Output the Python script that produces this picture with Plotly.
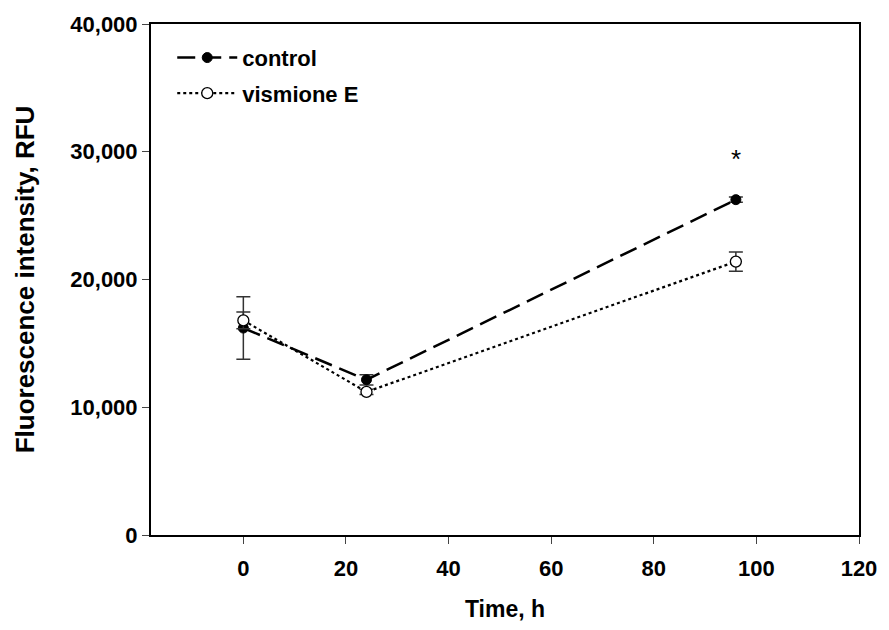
import plotly.graph_objects as go

time_h = [0, 24, 96]
control = [16200, 12150, 26250]
control_err = [2450, 400, 200]
vismione = [16800, 11200, 21400]
vismione_err = [650, 200, 750]
x_ticks = [0, 20, 40, 60, 80, 100, 120]
y_ticks = [0, 10000, 20000, 30000, 40000]
star_y = 29400

FONT = "Liberation Sans, Arial, sans-serif"

fig = go.Figure()
fig.add_trace(go.Scatter(
    x=time_h, y=control, name="control", mode="lines+markers", legendgroup="a",
    line=dict(color="black", width=2.5, dash="18px,8px"),
    marker=dict(symbol="circle", size=10, color="black", line=dict(color="black", width=1)),
    error_y=dict(type="data", array=control_err, visible=True, color="#333333", thickness=1.5, width=7),
))
fig.add_trace(go.Scatter(
    x=time_h, y=vismione, name="vismione E", mode="lines+markers", legendgroup="b",
    line=dict(color="black", width=2.2, dash="dot"),
    marker=dict(symbol="circle", size=11, color="white", line=dict(color="black", width=1.3)),
    error_y=dict(type="data", array=vismione_err, visible=True, color="#333333", thickness=1.5, width=7),
))

fig.add_annotation(x=time_h[2], y=star_y, text="*", showarrow=False,
                   font=dict(family=FONT, size=26, color="black"), xref="x", yref="y")

fig.update_layout(
    width=889, height=630,
    margin=dict(l=151, r=22, t=20, b=93),
    paper_bgcolor="white", plot_bgcolor="white",
    font=dict(family=FONT, color="black"),
    showlegend=True,
    legend=dict(x=0.03, y=0.975, xanchor="left", yanchor="top",
                bgcolor="rgba(0,0,0,0)", font=dict(family=FONT, size=22, weight="bold"),
                itemwidth=60, tracegroupgap=4),
    xaxis=dict(range=[-18, 120], tickvals=x_ticks, ticks="outside", ticklen=7, tickwidth=1.2,
               showline=True, linecolor="black", linewidth=2, mirror=True, showgrid=False,
               zeroline=False, ticklabelstandoff=6,
               tickfont=dict(family=FONT, size=22, weight="bold"),
               title=dict(text="Time, h", font=dict(family=FONT, size=23, weight="bold"), standoff=20)),
    yaxis=dict(range=[0, 40000], tickvals=y_ticks, tickformat=",", ticks="outside", ticklen=7,
               tickwidth=1.2,
               showline=True, linecolor="black", linewidth=2, mirror=True, showgrid=False,
               zeroline=False,
               tickfont=dict(family=FONT, size=22, weight="bold"),
               title=dict(text="Fluorescence intensity, RFU", font=dict(family=FONT, size=26, weight="bold"), standoff=28)),
)

fig.write_html("out.html")
